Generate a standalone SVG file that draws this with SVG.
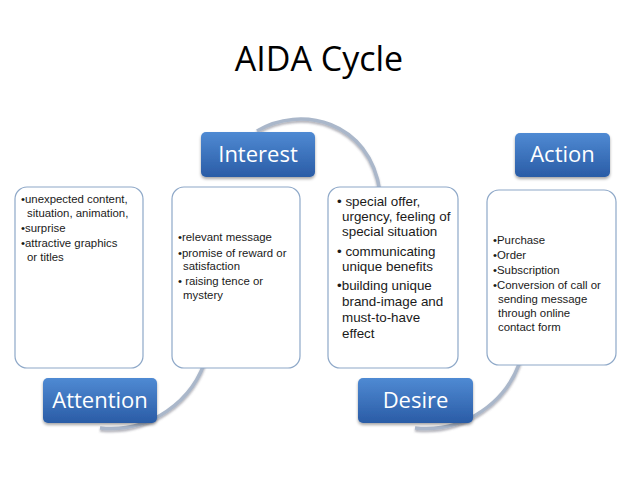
<svg xmlns="http://www.w3.org/2000/svg" width="638" height="479" viewBox="0 0 638 479">
<defs>
<linearGradient id="btn" x1="0" y1="0" x2="0" y2="1">
<stop offset="0" stop-color="#4f8ad3"/>
<stop offset="1" stop-color="#2a5ca6"/>
</linearGradient>
<filter id="sh" x="-20%" y="-20%" width="140%" height="150%">
<feDropShadow dx="0" dy="2" stdDeviation="1.5" flood-color="#000" flood-opacity="0.35"/>
</filter>
<filter id="ash" x="-20%" y="-20%" width="140%" height="150%">
<feDropShadow dx="0" dy="2" stdDeviation="1.2" flood-color="#556" flood-opacity="0.45"/>
</filter>
</defs>
<style>
.box{fill:#fff;stroke:#8ea8c8;stroke-width:1.2}
.btn{fill:url(#btn);filter:url(#sh)}
.bl{font-family:"Open Sans","Liberation Sans",sans-serif;font-size:22px;fill:#fff;text-anchor:middle}
.t{font-family:"Liberation Sans",Arial,sans-serif;font-size:11.4px;fill:#1a1a1a}
.t2{font-family:"Liberation Sans",Arial,sans-serif;font-size:13.4px;fill:#1a1a1a}
.arc{fill:none;stroke:#aab7ca;stroke-width:3.5;filter:url(#ash)}
</style>
<rect width="638" height="479" fill="#fff"/>
<text x="319" y="71" font-family="'Open Sans','Liberation Sans',sans-serif" font-size="34" fill="#000" text-anchor="middle">AIDA Cycle</text>
<g id="connectors">
<path class="arc" d="M257,131 C300,105 370,120 380,192"/>
<path class="arc" d="M100,428 A100,100 0 0 0 207,355"/>
<path class="arc" d="M415,428 A100,100 0 0 0 522,355"/>
</g>
<g id="box-attention">
<rect class="box" x="15" y="187" width="128" height="181" rx="12"/>
<text class="t"><tspan x="21" y="203">•unexpected content,</tspan><tspan x="27" y="217">situation, animation,</tspan><tspan x="21" y="232">•surprise</tspan><tspan x="21" y="247">•attractive graphics</tspan><tspan x="27" y="261">or titles</tspan></text>
</g>
<g id="box-interest">
<rect class="box" x="172" y="187" width="128" height="181" rx="12"/>
<text class="t"><tspan x="178" y="241">•relevant message</tspan><tspan x="178" y="257">•promise of reward or</tspan><tspan x="183" y="270">satisfaction</tspan><tspan x="178" y="285">• raising tence or</tspan><tspan x="183" y="299">mystery</tspan></text>
</g>
<g id="box-desire">
<rect class="box" x="328" y="187" width="130" height="181" rx="12"/>
<text class="t2"><tspan x="337" y="206">• special offer,</tspan><tspan x="342" y="221">urgency, feeling of</tspan><tspan x="342" y="236">special situation</tspan><tspan x="337" y="256">• communicating</tspan><tspan x="342" y="271">unique benefits</tspan><tspan x="337" y="290">•building unique</tspan><tspan x="342" y="306">brand-image and</tspan><tspan x="342" y="322">must-to-have</tspan><tspan x="342" y="338">effect</tspan></text>
</g>
<g id="box-action">
<rect class="box" x="487" y="190" width="129" height="175" rx="12"/>
<text class="t"><tspan x="493" y="244">•Purchase</tspan><tspan x="493" y="259">•Order</tspan><tspan x="493" y="274">•Subscription</tspan><tspan x="493" y="289">•Conversion of call or</tspan><tspan x="498" y="303">sending message</tspan><tspan x="498" y="317">through online</tspan><tspan x="498" y="331">contact form</tspan></text>
</g>
<g id="btn-interest">
<rect class="btn" x="201" y="132" width="114" height="45" rx="5"/>
<text class="bl" x="258" y="162">Interest</text>
</g>
<g id="btn-action">
<rect class="btn" x="515" y="133" width="95" height="44" rx="5"/>
<text class="bl" x="562.5" y="162">Action</text>
</g>
<g id="btn-attention">
<rect class="btn" x="43" y="378" width="114" height="45" rx="5"/>
<text class="bl" x="100" y="408">Attention</text>
</g>
<g id="btn-desire">
<rect class="btn" x="358" y="378" width="115" height="45" rx="5"/>
<text class="bl" x="415.5" y="408">Desire</text>
</g>
</svg>
